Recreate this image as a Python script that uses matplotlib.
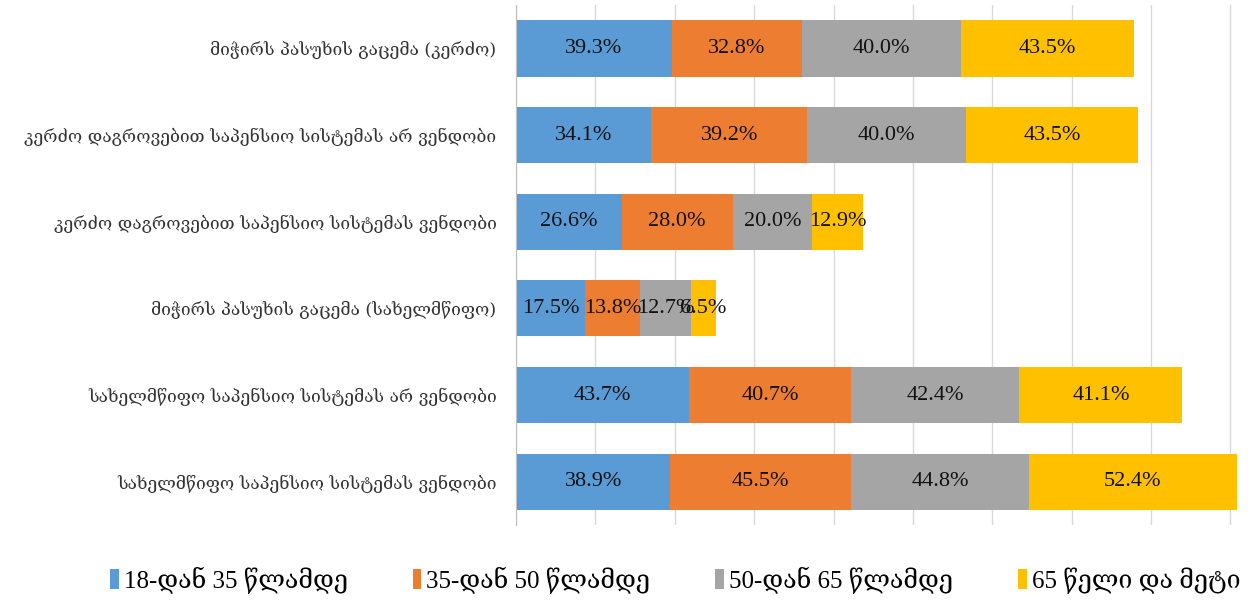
import numpy as np
import matplotlib.pyplot as plt

# categories, top to bottom
categories = [
    'მიჭირს პასუხის გაცემა (კერძო)',
    'კერძო დაგროვებით საპენსიო სისტემას არ ვენდობი',
    'კერძო დაგროვებით საპენსიო სისტემას ვენდობი',
    'მიჭირს პასუხის გაცემა (სახელმწიფო)',
    'სახელმწიფო საპენსიო სისტემას არ ვენდობი',
    'სახელმწიფო საპენსიო სისტემას ვენდობი',
]
series_names = ['18-დან 35 წლამდე', '35-დან 50 წლამდე', '50-დან 65 წლამდე', '65 წელი და მეტი']
age_18_35 = [39.3, 34.1, 26.6, 17.5, 43.7, 38.9]
age_35_50 = [32.8, 39.2, 28.0, 13.8, 40.7, 45.5]
age_50_65 = [40.0, 40.0, 20.0, 12.7, 42.4, 44.8]
age_65_up = [43.5, 43.5, 12.9, 6.5, 41.1, 52.4]
colors = ['#5B9BD5', '#ED7D31', '#A5A5A5', '#FFC000']

serif = ['Liberation Serif', 'DejaVu Serif']

fig = plt.figure(figsize=(12.5, 6.01), dpi=100)
ax = fig.add_axes([516 / 1250, 1 - 525 / 601, (1240 - 516) / 1250, 520 / 601])

y = np.arange(len(categories))
left = np.zeros(len(categories))
for name, vals, c in zip(series_names, [age_18_35, age_35_50, age_50_65, age_65_up], colors):
    vals = np.array(vals)
    ax.barh(y, vals, left=left, height=0.65, color=c, label=name, zorder=3)
    for yi, l, v in zip(y, left, vals):
        ax.text(l + v / 2, yi, f'{v:.1f}%', ha='center', va='center',
                fontsize=16, family=serif, color='#111111', zorder=4)
    left += vals

ax.set_ylim(len(categories) - 0.5, -0.5)
ax.set_xlim(0, 182.4)
ax.set_xticks(np.arange(0, 181, 20))
ax.set_xticklabels([])
ax.tick_params(axis='both', length=0)
ax.set_yticks(y)
ax.set_yticklabels(categories, fontsize=12.5, family=['DejaVu Serif', 'DejaVu Sans'], color='#333333')
ax.tick_params(axis='y', pad=14)
ax.grid(axis='x', color='#D9D9D9', linewidth=1, zorder=0)
for s in ['top', 'right', 'bottom']:
    ax.spines[s].set_visible(False)
ax.spines['left'].set_color('#BFBFBF')
ax.spines['left'].set_zorder(5)

fig.legend(loc='center', bbox_to_anchor=(0.54, 1 - 580 / 601),
           ncol=4, frameon=False, prop={'family': serif, 'size': 18},
           handlelength=0.35, handleheight=0.9, handletextpad=0.2, columnspacing=2.6)

fig.savefig('out.png', dpi=100)
